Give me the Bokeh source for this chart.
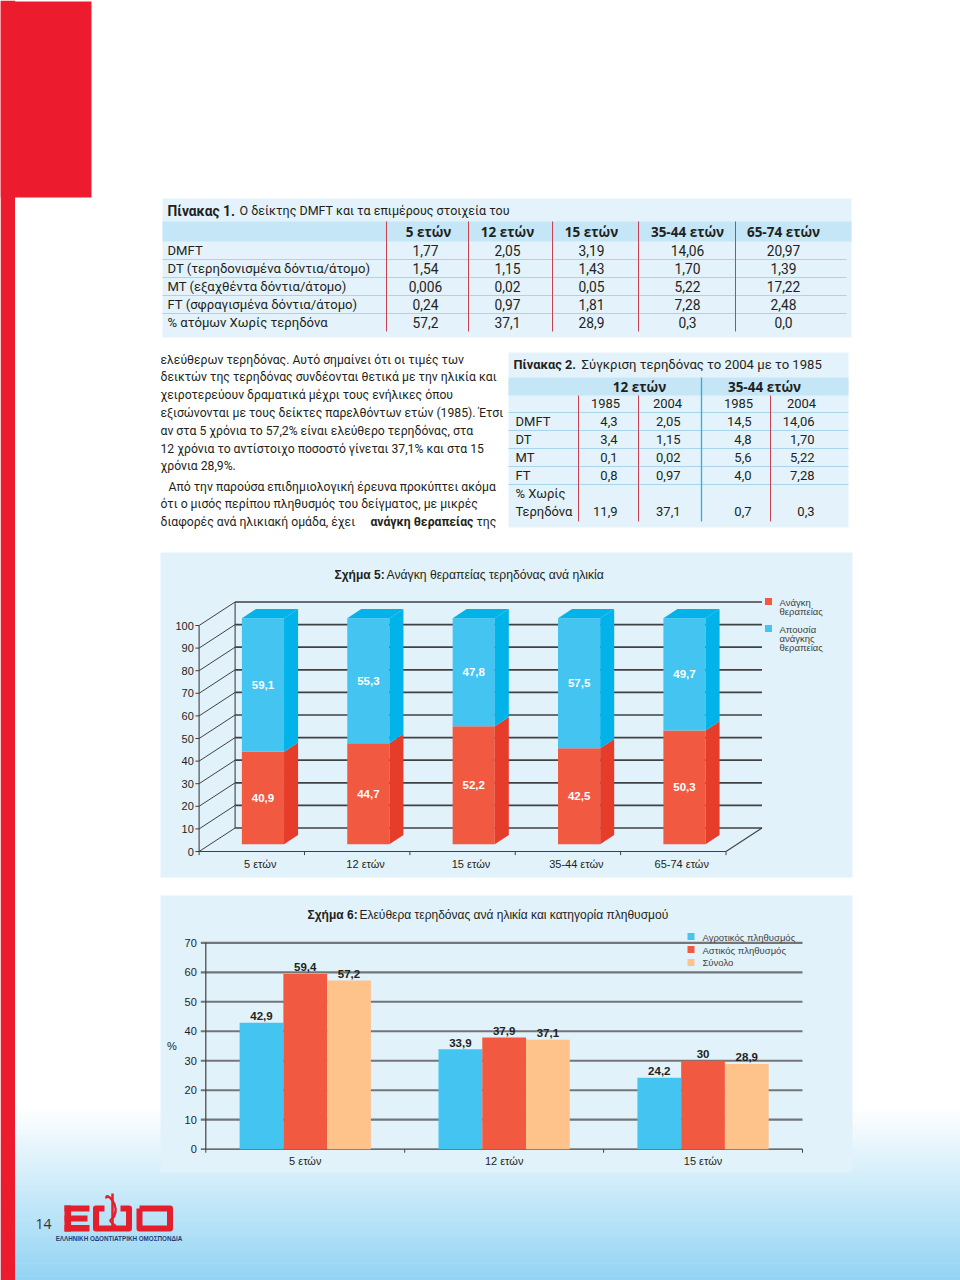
from bokeh.plotting import figure
from bokeh.models import Range1d
from bokeh.embed import file_html
from bokeh.resources import INLINE
from bokeh.core.properties import value

# ---------------- data ----------------
t1_title_bold = "Πίνακας 1."
t1_title = "Ο δείκτης DMFT και τα επιμέρους στοιχεία του"
t1_cols = ["5 ετών", "12 ετών", "15 ετών", "35-44 ετών", "65-74 ετών"]
t1_rows = ["DMFT", "DT (τερηδονισμένα δόντια/άτομο)", "MT (εξαχθέντα δόντια/άτομο)",
           "FT (σφραγισμένα δόντια/άτομο)", "% ατόμων Χωρίς τερηδόνα"]
t1_5 = ["1,77", "1,54", "0,006", "0,24", "57,2"]
t1_12 = ["2,05", "1,15", "0,02", "0,97", "37,1"]
t1_15 = ["3,19", "1,43", "0,05", "1,81", "28,9"]
t1_3544 = ["14,06", "1,70", "5,22", "7,28", "0,3"]
t1_6574 = ["20,97", "1,39", "17,22", "2,48", "0,0"]

t2_title_bold = "Πίνακας 2."
t2_title = "Σύγκριση τερηδόνας το 2004 με το 1985"
t2_groups = ["12 ετών", "35-44 ετών"]
t2_years = ["1985", "2004", "1985", "2004"]
t2_rows = ["DMFT", "DT", "MT", "FT", "% Χωρίς", "Τερηδόνα"]
t2_12_1985 = ["4,3", "3,4", "0,1", "0,8", "11,9"]
t2_12_2004 = ["2,05", "1,15", "0,02", "0,97", "37,1"]
t2_3544_1985 = ["14,5", "4,8", "5,6", "4,0", "0,7"]
t2_3544_2004 = ["14,06", "1,70", "5,22", "7,28", "0,3"]

body_p1 = ["ελεύθερων τερηδόνας. Αυτό σημαίνει ότι οι τιμές των",
           "δεικτών της τερηδόνας συνδέονται θετικά με την ηλικία και",
           "χειροτερεύουν δραματικά μέχρι τους ενήλικες όπου",
           "εξισώνονται με τους δείκτες παρελθόντων ετών (1985). Έτσι",
           "αν στα 5 χρόνια το 57,2% είναι ελεύθερο τερηδόνας, στα",
           "12 χρόνια το αντίστοιχο ποσοστό γίνεται 37,1% και στα 15",
           "χρόνια 28,9%."]
body_p2 = ["Από την παρούσα επιδημιολογική έρευνα προκύπτει ακόμα",
           "ότι ο μισός περίπου πληθυσμός του δείγματος, με μικρές"]
body_last = ["διαφορές ανά ηλικιακή ομάδα, έχει ", "ανάγκη θεραπείας", " της"]

c5_title_bold = "Σχήμα 5:"
c5_title = "Ανάγκη θεραπείας τερηδόνας ανά ηλικία"
c5_cats = ["5 ετών", "12 ετών", "15 ετών", "35-44 ετών", "65-74 ετών"]
c5_need = [40.9, 44.7, 52.2, 42.5, 50.3]
c5_noneed = [59.1, 55.3, 47.8, 57.5, 49.7]
c5_ticks = [0, 10, 20, 30, 40, 50, 60, 70, 80, 90, 100]
c5_legend_need = ["Ανάγκη", "θεραπείας"]
c5_legend_noneed = ["Απουσία", "ανάγκης", "θεραπείας"]

c6_title_bold = "Σχήμα 6:"
c6_title = "Ελεύθερα τερηδόνας ανά ηλικία και κατηγορία πληθυσμού"
c6_cats = ["5 ετών", "12 ετών", "15 ετών"]
c6_rural = [42.9, 33.9, 24.2]
c6_urban = [59.4, 37.9, 30.0]
c6_total = [57.2, 37.1, 28.9]
c6_series = ["Αγροτικός πληθυσμός", "Αστικός πληθυσμός", "Σύνολο"]
c6_ticks = [0, 10, 20, 30, 40, 50, 60, 70]
c6_ylabel = "%"

page_number = "14"
logo_sub = "ΕΛΛΗΝΙΚΗ ΟΔΟΝΤΙΑΤΡΙΚΗ ΟΜΟΣΠΟΝΔΙΑ"

# ---------------- figure ----------------
W, H = 960, 1280
L, T = 0, 0
p = figure(width=W, height=H, x_range=Range1d(L, L + W), y_range=Range1d(T + H, T),
           x_axis_type=None, y_axis_type=None, toolbar_location=None,
           output_backend="svg", min_border=0)
p.outline_line_color = None
p.background_fill_color = "white"
p.border_fill_color = "white"


def xr(pa, va, pb, vb):
    k = (pb - pa) / (vb - va)
    return Range1d(start=va + (L - pa) / k, end=va + (L + W - pa) / k)


def yr(pa, va, pb, vb):
    k = (pb - pa) / (vb - va)
    return Range1d(start=va + (T + H - pa) / k, end=va + (T - pa) / k)


p.extra_x_ranges = {"c5x": xr(198.6, 0, 725.5, 5), "c6x": xr(205.3, 0, 802.0, 3)}
p.extra_y_ranges = {"c5y": yr(851.0, 0, 625.0, 100), "c6y": yr(1148.7, 0, 942.3, 70)}

INK = "#231f20"


def txt(x, y, s, size=12, font="Roboto", style="normal", color=INK, align="left",
        baseline="middle", xn="default", yn="default"):
    if not isinstance(x, list):
        x, y, s = [x], [y], [s]
    p.text(x=x, y=y, text=s, text_font=value(font), text_font_size=f"{size}px",
           text_font_style=style, text_color=color, text_align=align,
           text_baseline=baseline, x_range_name=xn, y_range_name=yn)


def fmt(v):
    return f"{v:g}".replace(".", ",")


# ---------------- page background ----------------
N = 40
g0, g1 = 1108, 1280
tops, bots, cols = [], [], []
for i in range(N):
    f = (i + 0.5) / N
    r = int(255 + (146 - 255) * f)
    g = int(255 + (212 - 255) * f)
    b = int(255 + (244 - 255) * f)
    tops.append(g0 + (g1 - g0) * i / N)
    bots.append(g0 + (g1 - g0) * (i + 1) / N + 0.5)
    cols.append(f"#{r:02x}{g:02x}{b:02x}")
p.quad(left=[0] * N, right=[W] * N, top=tops, bottom=bots, fill_color=cols, line_color=None)

RED = "#ec1c2e"
p.quad(left=[0], right=[14.5], top=[0], bottom=[H], fill_color=RED, line_color=None)
p.quad(left=[0], right=[91], top=[1], bottom=[197], fill_color=RED, line_color=None)

PANEL = "#e4f3fb"
BAND = "#c5e6f7"
RULE = "#a8d4ec"
SEP = "#c8414f"

# ---------------- Table 1 ----------------
p.quad(left=[162], right=[851], top=[198], bottom=[337], fill_color=PANEL, line_color=None)
p.quad(left=[162], right=[851], top=[221], bottom=[241], fill_color=BAND, line_color=None)
txt(167, 210, t1_title_bold, 13.8, "Roboto", "bold")
txt(239, 210, t1_title, 12.5, "Roboto")
t1_hx = [428, 507, 591, 687, 783]
t1_x = [425, 507, 591, 687, 783]
txt(t1_hx, [231] * 5, t1_cols, 13.5, "Open Sans", "bold", align="center")
row_y = [250 + 18 * i for i in range(5)]
p.segment(x0=[162] * 4, y0=[259 + 18 * i for i in range(4)], x1=[846] * 4,
          y1=[259 + 18 * i for i in range(4)], line_color=RULE, line_width=1)
p.segment(x0=[386, 468, 552, 638, 735], y0=[221] * 5, x1=[386, 468, 552, 638, 735], y1=[331] * 5,
          line_color=SEP, line_width=1)
txt([167] * 5, row_y, t1_rows, 13.1, "Roboto")
for cx, colv in zip(t1_x, [t1_5, t1_12, t1_15, t1_3544, t1_6574]):
    txt([cx] * 5, row_y, colv, 13.8, "Roboto", align="center")

# ---------------- Body text ----------------
by = [359 + 17.8 * i for i in range(len(body_p1))]
txt([160] * len(by), by, body_p1, 12.2, "Roboto")
txt([168, 160], [486, 503.5], body_p2, 12.2, "Roboto")
txt(160, 521, body_last[0], 12.2, "Roboto")
txt(370, 521, body_last[1], 12.2, "Roboto", "bold")
txt(476, 521, body_last[2], 12.2, "Roboto")

# ---------------- Table 2 ----------------
p.quad(left=[508], right=[848], top=[352], bottom=[527], fill_color=PANEL, line_color=None)
p.quad(left=[508], right=[848], top=[377], bottom=[395], fill_color=BAND, line_color=None)
txt(513, 364, t2_title_bold, 12.8, "Roboto", "bold")
txt(581, 364, t2_title, 13.1, "Roboto")
txt([639, 764], [386, 386], t2_groups, 13.5, "Open Sans", "bold", align="center")
txt([605, 667, 738, 801], [403] * 4, t2_years, 13, "Roboto", align="center")
r2_y = [421, 439, 457, 475, 493, 511]
p.segment(x0=[508] * 5, y0=[412, 430, 448, 466, 484], x1=[848] * 5, y1=[412, 430, 448, 466, 484],
          line_color=RULE, line_width=1)
p.segment(x0=[578, 638, 770], y0=[395] * 3, x1=[578, 638, 770], y1=[521] * 3,
          line_color=SEP, line_width=1)
p.segment(x0=[701], y0=[377], x1=[701], y1=[521], line_color="#1fb3e6", line_width=1.3)
txt([515] * 6, r2_y, t2_rows, 13, "Roboto")
vy = [421, 439, 457, 475, 511]
for rx, colv in zip([617, 680, 751, 814], [t2_12_1985, t2_12_2004, t2_3544_1985, t2_3544_2004]):
    txt([rx] * 5, vy, colv, 13, "Roboto", align="right")

# ---------------- Chart 5 (3D stacked) ----------------
CHART = "#e1f2fb"
p.quad(left=[160], right=[852], top=[552], bottom=[877], fill_color=CHART, line_color=None)
txt(334, 574, c5_title_bold, 12, "Liberation Sans", "bold")
txt(386, 574, c5_title, 12.2, "Liberation Sans")

K5 = dict(x_range_name="c5x", y_range_name="c5y")
DX, DY = 36 / 105.38, 23.5 / 2.26
Z0, Z1 = 0.31, 0.70
HW = 0.2
n5 = len(c5_cats)
AX = "#414042"
p.segment(x0=[DX] * len(c5_ticks), y0=[v + DY for v in c5_ticks], x1=[n5 + DX] * len(c5_ticks),
          y1=[v + DY for v in c5_ticks], line_color=AX, line_width=1.7, **K5)
p.segment(x0=[0] * len(c5_ticks), y0=c5_ticks, x1=[DX] * len(c5_ticks),
          y1=[v + DY for v in c5_ticks], line_color=AX, line_width=1, **K5)
p.segment(x0=[DX, 0, 0, n5], y0=[DY, 0, 0, 0],
          x1=[DX, 0, n5, n5 + DX], y1=[100 + DY, 100, 0, DY],
          line_color=AX, line_width=1.1, **K5)
p.segment(x0=[-0.035] * len(c5_ticks), y0=c5_ticks, x1=[0] * len(c5_ticks), y1=c5_ticks,
          line_color=AX, line_width=1, **K5)
p.segment(x0=list(range(n5 + 1)), y0=[0] * (n5 + 1), x1=list(range(n5 + 1)), y1=[-1.6] * (n5 + 1),
          line_color=AX, line_width=1, **K5)

RF, RS = "#f15a40", "#e63d2b"
BF, BS = "#44c4f1", "#02b3ea"
cx5 = [i + 0.5 for i in range(n5)]
p.quad(left=[c - HW + Z0 * DX for c in cx5], right=[c + HW + Z0 * DX for c in cx5],
       bottom=[Z0 * DY] * n5, top=[a + Z0 * DY for a in c5_need], fill_color=RF, line_color=None, **K5)
p.quad(left=[c - HW + Z0 * DX for c in cx5], right=[c + HW + Z0 * DX for c in cx5],
       bottom=[a + Z0 * DY for a in c5_need], top=[a + b + Z0 * DY for a, b in zip(c5_need, c5_noneed)],
       fill_color=BF, line_color=None, **K5)
sx = [[c + HW + Z0 * DX, c + HW + Z0 * DX, c + HW + Z1 * DX, c + HW + Z1 * DX] for c in cx5]
p.patches(xs=sx, ys=[[Z0 * DY, a + Z0 * DY, a + Z1 * DY, Z1 * DY] for a in c5_need],
          fill_color=RS, line_color=None, **K5)
p.patches(xs=sx, ys=[[a + Z0 * DY, a + b + Z0 * DY, a + b + Z1 * DY, a + Z1 * DY]
                     for a, b in zip(c5_need, c5_noneed)], fill_color=BS, line_color=None, **K5)
p.patches(xs=[[c - HW + Z0 * DX, c + HW + Z0 * DX, c + HW + Z1 * DX, c - HW + Z1 * DX] for c in cx5],
          ys=[[a + b + Z0 * DY, a + b + Z0 * DY, a + b + Z1 * DY, a + b + Z1 * DY]
              for a, b in zip(c5_need, c5_noneed)], fill_color=BS, line_color=None, **K5)
txt([c + Z0 * DX for c in cx5], [a / 2 + Z0 * DY for a in c5_need], [fmt(a) for a in c5_need],
    11.5, "Liberation Sans", "bold", "white", "center", xn="c5x", yn="c5y")
txt([c + Z0 * DX for c in cx5], [a + b / 2 + Z0 * DY for a, b in zip(c5_need, c5_noneed)],
    [fmt(b) for b in c5_noneed], 11.5, "Liberation Sans", "bold", "white", "center", xn="c5x", yn="c5y")
txt([-0.05] * len(c5_ticks), c5_ticks, [str(v) for v in c5_ticks], 11, "Liberation Sans",
    align="right", xn="c5x", yn="c5y")
txt([c + 0.08 for c in cx5], [-5.4] * n5, c5_cats, 11, "Liberation Sans", align="center",
    xn="c5x", yn="c5y")
p.rect(x=[768, 768], y=[601, 628], width=7, height=7, fill_color=[RF, BF], line_color=None)
txt([779, 779], [602, 611], c5_legend_need, 9.5, "Liberation Sans", color="#414042")
txt([779, 779, 779], [629, 638, 647], c5_legend_noneed, 9.5, "Liberation Sans", color="#414042")

# ---------------- Chart 6 (grouped bars) ----------------
p.quad(left=[160], right=[852], top=[895], bottom=[1172], fill_color=CHART, line_color=None)
txt(307, 914, c6_title_bold, 12, "Liberation Sans", "bold")
txt(359, 914, c6_title, 12, "Liberation Sans")
K6 = dict(x_range_name="c6x", y_range_name="c6y")
n6 = len(c6_cats)
gl = c6_ticks[1:]
p.segment(x0=[-0.025] * len(gl), y0=gl, x1=[n6] * len(gl), y1=gl, line_color="#737577",
          line_width=2.2, **K6)
p.segment(x0=[-0.025, 0], y0=[0, 0], x1=[n6, 0], y1=[0, 70], line_color=AX, line_width=1.2, **K6)
p.segment(x0=list(range(n6 + 1)), y0=[0] * (n6 + 1), x1=list(range(n6 + 1)), y1=[-1.2] * (n6 + 1),
          line_color=AX, line_width=1, **K6)
C6 = ["#43c4f1", "#f15a40", "#fdc38b"]
BW = 0.22
for k, (vals, col) in enumerate(zip([c6_rural, c6_urban, c6_total], C6)):
    xs = [i + 0.5 + (k - 1) * BW for i in range(n6)]
    p.vbar(x=xs, width=BW, top=vals, bottom=0, fill_color=col, line_color=None, **K6)
    txt(xs, [v + 0.9 for v in vals], [fmt(v) for v in vals], 11.5, "Liberation Sans", "bold",
        baseline="bottom", align="center", xn="c6x", yn="c6y")
txt([-0.045] * len(c6_ticks), c6_ticks, [str(v) for v in c6_ticks], 11, "Liberation Sans",
    align="right", xn="c6x", yn="c6y")
txt([i + 0.5 for i in range(n6)], [-3.9] * n6, c6_cats, 11, "Liberation Sans", align="center",
    xn="c6x", yn="c6y")
txt(-0.17, 35, c6_ylabel, 11, "Liberation Sans", align="center", xn="c6x", yn="c6y")
p.rect(x=[690.5] * 3, y=[936, 949, 962], width=7, height=7, fill_color=C6, line_color=None)
txt([702] * 3, [937, 950, 962], c6_series, 9.5, "Liberation Sans", color="#414042")

# ---------------- footer / logo ----------------
txt(43, 1223, page_number, 14, "Open Sans", color="#333333", align="center")
LR = "#e31e2d"
p.quad(left=[64, 64, 64, 64], right=[70.5, 89, 87, 89], top=[1205, 1205, 1215, 1224.5],
       bottom=[1231, 1211, 1221, 1231], fill_color=LR, line_color=None)
p.line(x=[104, 95.5, 95.5, 128.5, 128.5, 120], y=[1208, 1208, 1228, 1228, 1208, 1208],
       line_color=LR, line_width=6, line_join="round")
p.line(x=[139, 169.5, 169.5, 139, 139], y=[1208, 1208, 1228, 1228, 1208],
       line_color=LR, line_width=6, line_join="round")
p.segment(x0=[112], y0=[1193], x1=[112], y1=[1230], line_color=LR, line_width=2.5)
p.bezier(x0=[106], y0=[1198], x1=[112], y1=[1218], cx0=[104], cy0=[1190], cx1=[122], cy1=[1205],
         line_color=LR, line_width=2.5)
p.bezier(x0=[112], y0=[1218], x1=[114], y1=[1229], cx0=[104], cy0=[1222], cx1=[120], cy1=[1224],
         line_color=LR, line_width=2)
txt(118.5, 1238, logo_sub, 6.3, "Liberation Sans", "bold", "#1f3d7a", align="center")

open("out.html", "w").write(file_html(p, INLINE))
